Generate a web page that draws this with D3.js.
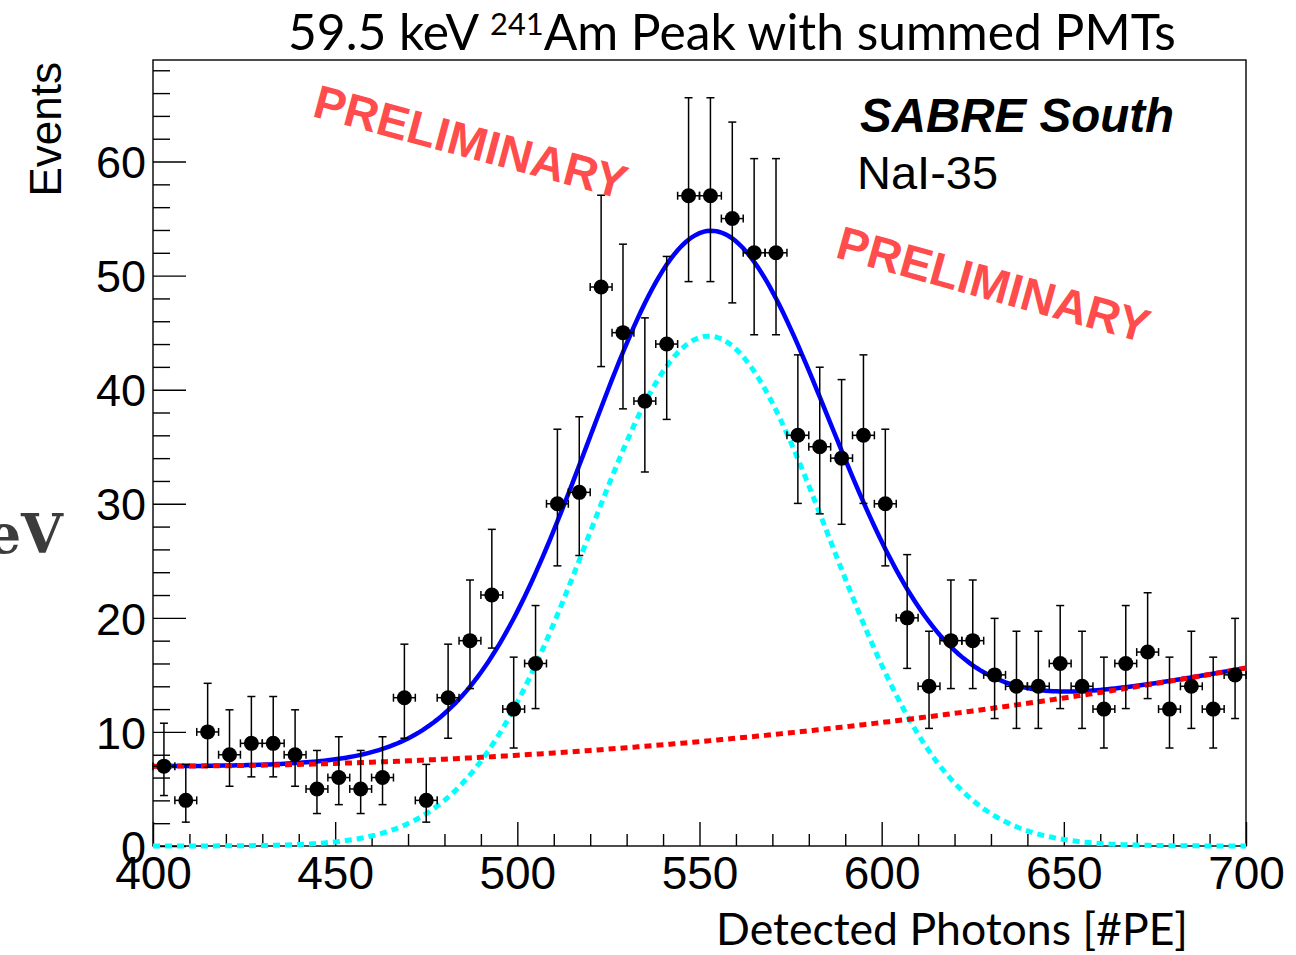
<!DOCTYPE html>
<html><head><meta charset="utf-8">
<script src="https://cdn.jsdelivr.net/npm/d3@7"></script>
<style>body{margin:0;background:#fff} svg{display:block}</style>
</head><body><svg id="c" width="1296" height="955"></svg>
<script>
// ---- data ----
const binCenters = [403,409,415,421,427,433,439,445,451,457,463,469,475,481,487,493,499,505,511,517,523,529,535,541,547,553,559,565,571,577,583,589,595,601,607,613,619,625,631,637,643,649,655,661,667,673,679,685,691,697];
const counts     = [7,4,10,8,9,9,8,5,6,5,6,13,4,13,18,22,12,16,30,31,49,45,39,44,57,57,55,52,52,36,35,34,36,30,20,14,18,18,15,14,14,16,14,12,16,17,12,14,12,15];
const binHalfWidth = 3;
const xTickValues = [400,450,500,550,600,650,700];
const xTickLabels = ["400","450","500","550","600","650","700"];
const yTickValues = [0,10,20,30,40,50,60];
const yTickLabels = ["0","10","20","30","40","50","60"];
const xDomain = [400,700];
const yDomain = [0,68.9];
// fit function parameters (gaus + pol2 background)
const sigAmp = 44.7, sigMean = 552.5, sigSigma = 33;
const bkgC0 = 7.0, bkgX0 = 400, bkgC2 = 9.56e-5;
const titleMain = "59.5 keV ", titleSup = "241", titleRest = "Am Peak with summed PMTs";
const xTitle = "Detected Photons [#PE]";
const yTitle = "Events";

// ---- layout ----
const L = 153, R = 1246, T = 60, B = 846;
const svg = d3.select("#c");
const x = d3.scaleLinear().domain(xDomain).range([L, R]);
const y = d3.scaleLinear().domain(yDomain).range([B, T]);

// cut-off "keV" from the slide behind
svg.append("text").attr("x", 63).attr("y", 553).attr("text-anchor","end")
  .attr("font-family","'DejaVu Serif', serif").attr("font-weight","bold")
  .attr("font-size",54).attr("fill","#3c3c3c").text("keV");

// frame
svg.append("rect").attr("x",L).attr("y",T).attr("width",R-L).attr("height",B-T)
  .attr("fill","none").attr("stroke","#000").attr("stroke-width",1.4);

// axes
const fontAxis = "'Liberation Sans', Arial, sans-serif";
const xMinor = d3.range(410, 700, 10).filter(v => v % 50 !== 0);
const yMinor = d3.range(2, 69, 2).filter(v => v % 10 !== 0);

const gxMinor = svg.append("g").attr("transform",`translate(0,${B})`)
  .call(d3.axisBottom(x).tickValues(xMinor).tickSizeInner(-12).tickSizeOuter(0).tickFormat(""));
const gx = svg.append("g").attr("transform",`translate(0,${B})`)
  .call(d3.axisBottom(x).tickValues(xTickValues).tickSizeInner(-24).tickSizeOuter(0).tickPadding(10)
    .tickFormat((d,i) => xTickLabels[i]));
const gyMinor = svg.append("g").attr("transform",`translate(${L},0)`)
  .call(d3.axisLeft(y).tickValues(yMinor).tickSizeInner(-17).tickSizeOuter(0).tickFormat(""));
const gy = svg.append("g").attr("transform",`translate(${L},0)`)
  .call(d3.axisLeft(y).tickValues(yTickValues).tickSizeInner(-33).tickSizeOuter(0).tickPadding(7)
    .tickFormat((d,i) => yTickLabels[i]));
[gx,gxMinor,gy,gyMinor].forEach(g => {
  g.select(".domain").remove();
  g.selectAll("line").attr("stroke","#000").attr("stroke-width",1.4);
  g.selectAll("text").attr("font-family",fontAxis).attr("fill","#000");
});
gx.selectAll("text").attr("font-size",46);
gy.selectAll("text").attr("font-size",45).attr("dy","0.36em");

// fit curves
const xs = d3.range(xDomain[0], xDomain[1] + 0.5, 1);
const gaus = v => sigAmp * Math.exp(-((v - sigMean) ** 2) / (2 * sigSigma * sigSigma));
const bkg = v => bkgC0 + bkgC2 * (v - bkgX0) ** 2;
const line = f => d3.line().x(v => x(v)).y(v => y(f(v)))(xs);
svg.append("path").attr("d", line(v => gaus(v) + bkg(v))).attr("fill","none")
  .attr("stroke","#0000ff").attr("stroke-width",4.5);
svg.append("path").attr("d", line(gaus)).attr("fill","none")
  .attr("stroke","#00ffff").attr("stroke-width",5).attr("stroke-dasharray","7,5");
svg.append("path").attr("d", line(bkg)).attr("fill","none")
  .attr("stroke","#ff0000").attr("stroke-width",5).attr("stroke-dasharray","7,5");

// Poisson (Garwood) 68% intervals, Wilson-Hilferty chi2 quantile
function chi2q(k, z){ const a = 2/(9*k); return k * Math.pow(1 - a + z*Math.sqrt(a), 3); }
const errLow  = n => n <= 0 ? 0 : 0.5 * chi2q(2*n, -1);
const errHigh = n => 0.5 * chi2q(2*n + 2, 1);

const pts = svg.append("g");
const data = binCenters.map((c,i) => ({c, n: counts[i]}));
const cap = 4;
data.forEach(d => {
  const cx = x(d.c), cy = y(d.n), yl = y(errLow(d.n)), yh = y(errHigh(d.n));
  const xl = x(d.c - binHalfWidth), xr = x(d.c + binHalfWidth);
  const g = pts.append("g").attr("stroke","#000").attr("stroke-width",1.5);
  g.append("line").attr("x1",cx).attr("x2",cx).attr("y1",yl).attr("y2",yh);
  g.append("line").attr("x1",cx-cap).attr("x2",cx+cap).attr("y1",yl).attr("y2",yl);
  g.append("line").attr("x1",cx-cap).attr("x2",cx+cap).attr("y1",yh).attr("y2",yh);
  g.append("line").attr("x1",xl).attr("x2",xr).attr("y1",cy).attr("y2",cy);
  g.append("line").attr("x1",xl).attr("x2",xl).attr("y1",cy-cap).attr("y2",cy+cap);
  g.append("line").attr("x1",xr).attr("x2",xr).attr("y1",cy-cap).attr("y2",cy+cap);
});
pts.selectAll("circle").data(data).join("circle")
  .attr("cx", d => x(d.c)).attr("cy", d => y(d.n)).attr("r", 7.5).attr("fill","#000");

// title
const fontSlide = "Lato, 'Open Sans', sans-serif";
const title = svg.append("text").attr("x",288).attr("y",50)
  .attr("font-family",fontSlide).attr("font-size",44).attr("fill","#000");
title.append("tspan").text(titleMain);
title.append("tspan").attr("font-size","0.62em").attr("dy","-0.5em").text(titleSup);
title.append("tspan").attr("dy","0.31em").text(titleRest);
function fitWidth(sel, w){
  const n = sel.node(); const cur = +sel.attr("font-size");
  const len = n.getBBox().width;
  if (len > 0) sel.attr("font-size", cur * w / len);
}
fitWidth(title, 888);

const xt = svg.append("text").attr("x",1188).attr("y",945).attr("text-anchor","end")
  .attr("font-family",fontSlide).attr("font-size",42).attr("fill","#000").text(xTitle);
fitWidth(xt, 472);

// y title
svg.append("text").attr("transform","translate(61,62) rotate(-90)").attr("text-anchor","end")
  .attr("font-family",fontAxis).attr("font-size",44).attr("fill","#000").text(yTitle);

// labels
svg.append("text").attr("x",860).attr("y",132).attr("font-family",fontAxis)
  .attr("font-weight","bold").attr("font-style","italic").attr("font-size",47.5).text("SABRE South");
svg.append("text").attr("x",857).attr("y",189).attr("font-family",fontAxis)
  .attr("font-size",47).text("NaI-35");

const prelim = [[311,116,15],[834,257,15.5]];
prelim.forEach(([px,py,a]) => {
  svg.append("text").attr("transform",`translate(${px},${py}) rotate(${a})`)
    .attr("font-family",fontAxis).attr("font-weight","bold").attr("font-size",47)
    .attr("fill","#ff4d4d").text("PRELIMINARY");
});
</script></body></html>
